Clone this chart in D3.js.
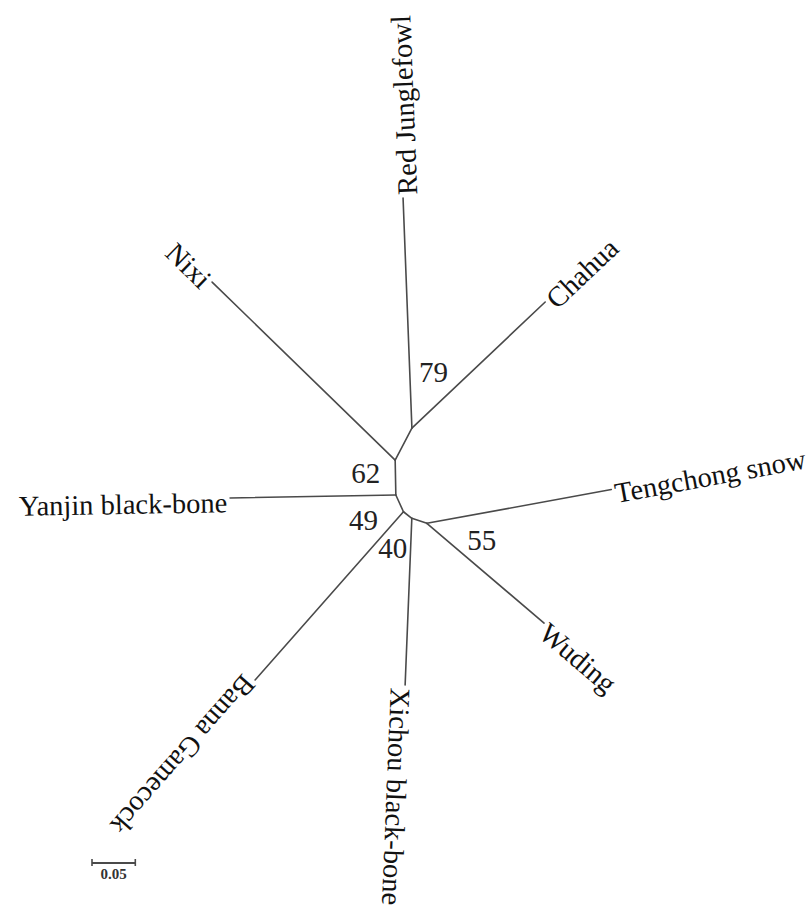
<!DOCTYPE html>
<html lang="en">
<head>
  <meta charset="UTF-8" />
  <title>Unrooted tree</title>
  <script src="https://d3js.org/d3.v7.min.js"></script>
  <style>
    body { margin: 0; background-color: white; }
    .branch { stroke: #4a4a4a; stroke-width: 1.6px; fill: none; }
    .leaf { font-family: "Liberation Serif", "Times New Roman", serif; font-size: 28.5px; fill: #111; }
    .boot { font-family: "Liberation Serif", "Times New Roman", serif; font-size: 29px; fill: #222; }
  </style>
</head>
<body>
<div id="tree"></div>
<script>
// tree data: node id, parent, branch length (substitutions/site), branch angle (deg, screen)
var nodeId      = ["C", "B", "A", "Red Junglefowl", "Chahua", "Nixi", "Yanjin black-bone", "D", "Banna Gamecock", "F", "Xichou black-bone", "E", "Tengchong snow", "Wuding"];
var nodeParent  = ["",  "C", "B", "A",              "A",      "B",    "C",                 "C", "D",              "D", "F",                 "F", "E",             "E"];
var branchLen   = [0,   0.0404, 0.0417, 0.2658,     0.2118,   0.2948, 0.1914,              0.0212, 0.2590,       0.0123, 0.1926,           0.0183, 0.2165,       0.1777];
var branchAngle = [0,   -91.1,  -62.4,  -92.2,      -43.4,    -135.8, 179.0,               65.5,   131.4,        38.2,   92.3,             18.4,   -10.4,        40.4];

// bootstrap support
var bootNode  = ["A", "B", "C", "F", "E"];
var bootValue = [79, 62, 49, 40, 55];

var scaleBarLen = 0.05;

var W = 809, H = 924;

var svg = d3.select("#tree").append("svg")
  .attr("width", W)
  .attr("height", H);

// distance scales (same px per unit on both axes)
var x = d3.scaleLinear().domain([-0.457, 0.477]).range([0, W]);
var y = d3.scaleLinear().domain([-0.5716, 0.4953]).range([0, H]);

var table = nodeId.map(function(id, i) {
  return {id: id, parent: nodeParent[i], len: branchLen[i], angle: branchAngle[i]};
});

var root = d3.stratify()
  .id(function(d) { return d.id; })
  .parentId(function(d) { return d.parent || null; })(table);

// place each node by walking down from the root
root.each(function(n) {
  if (!n.parent) { n.ux = 0; n.uy = 0; return; }
  var a = n.data.angle * Math.PI / 180;
  n.ux = n.parent.ux + n.data.len * Math.cos(a);
  n.uy = n.parent.uy + n.data.len * Math.sin(a);
});

// branches
svg.append("g")
  .selectAll("line")
  .data(root.links())
  .enter()
  .append("line")
    .attr("class", "branch")
    .attr("x1", function(d) { return x(d.source.ux); })
    .attr("y1", function(d) { return y(d.source.uy); })
    .attr("x2", function(d) { return x(d.target.ux); })
    .attr("y2", function(d) { return y(d.target.uy); })
    .attr("stroke-linecap", "round");

// leaf labels, turned so they never lie upside down on the left side
svg.append("g")
  .selectAll("text")
  .data(root.leaves())
  .enter()
  .append("text")
    .attr("class", "leaf")
    .each(function(d) {
      var ang = d.data.angle;
      var flip = Math.abs(ang) > 133;
      var a = ang * Math.PI / 180;
      var px = x(d.ux) + 3 * Math.cos(a);
      var py = y(d.uy) + 3 * Math.sin(a);
      d3.select(this)
        .attr("transform", "translate(" + px + "," + py + ") rotate(" + (flip ? ang + 180 : ang) + ")")
        .attr("text-anchor", flip ? "end" : "start")
        .attr("dy", "0.5em")
        .text(d.id);
    });

// bootstrap values next to their nodes
var bootShift = {A: [21.6, -56.3], B: [-29.3, 13.3], C: [-32.4, 25], F: [-19, 30], E: [55, 16.7]};
var byId = {};
root.each(function(n) { byId[n.id] = n; });

svg.append("g")
  .selectAll("text")
  .data(bootNode)
  .enter()
  .append("text")
    .attr("class", "boot")
    .attr("text-anchor", "middle")
    .attr("dy", "0.34em")
    .attr("x", function(d) { return x(byId[d].ux) + bootShift[d][0]; })
    .attr("y", function(d) { return y(byId[d].uy) + bootShift[d][1]; })
    .text(function(d, i) { return bootValue[i]; });

// scale bar
var barX = 92, barY = 863;
var barW = x(scaleBarLen) - x(0);
var bar = svg.append("g").attr("transform", "translate(" + barX + "," + barY + ")");
bar.append("line").attr("class", "branch").style("stroke-width", "2px").attr("x1", 0).attr("x2", barW).attr("y1", 0).attr("y2", 0);
bar.append("line").attr("class", "branch").attr("x1", 0).attr("x2", 0).attr("y1", -4).attr("y2", 3);
bar.append("line").attr("class", "branch").attr("x1", barW).attr("x2", barW).attr("y1", -4).attr("y2", 3);
bar.append("text")
  .attr("x", barW / 2)
  .attr("y", 16)
  .attr("text-anchor", "middle")
  .style("font-family", "Liberation Serif, serif")
  .style("font-size", "15px")
  .style("font-weight", "bold")
  .style("fill", "#333")
  .text(scaleBarLen);
</script>
</body>
</html>
